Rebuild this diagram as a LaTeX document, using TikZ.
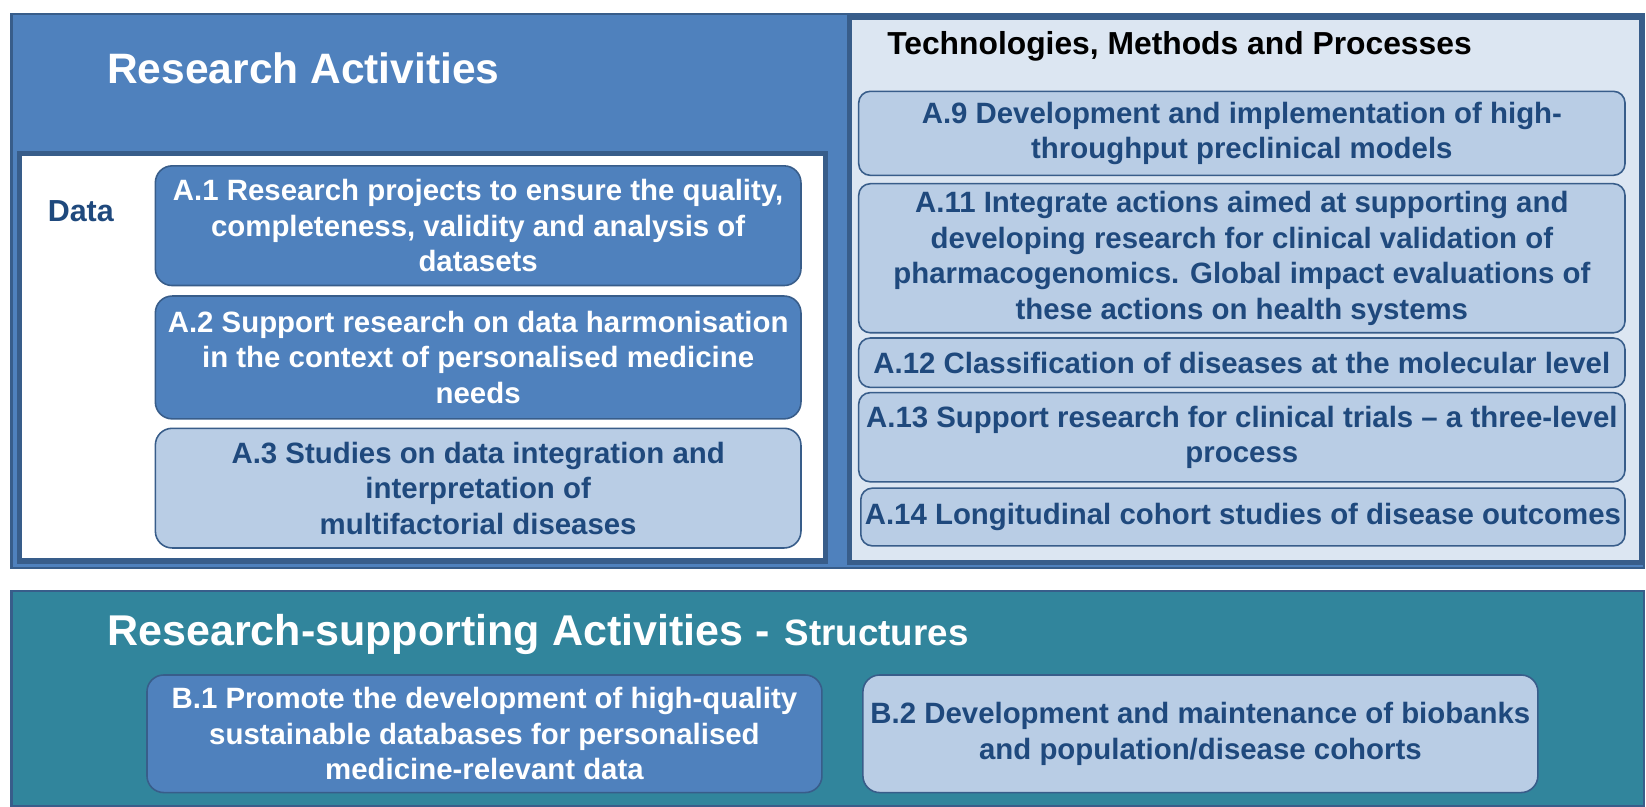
\documentclass[tikz,border=0pt]{standalone}
\usepackage{fontspec}
\setmainfont{Liberation Sans}
\definecolor{midblue}{HTML}{4F81BD}
\definecolor{edgeblue}{HTML}{385D8A}
\definecolor{paleblue}{HTML}{DCE6F2}
\definecolor{lightblue}{HTML}{B9CDE5}
\definecolor{textblue}{HTML}{1F497D}
\definecolor{tealfill}{HTML}{31859C}
\begin{document}
\begin{tikzpicture}[x=1pt,y=-1pt,
  panel/.style={draw=edgeblue, line width=2pt, inner sep=0pt, anchor=north west},
  innerpanel/.style={draw=edgeblue, line width=5pt, inner sep=0pt, anchor=north west},
  darkbox/.style={draw=edgeblue, line width=1.5pt, fill=midblue, rounded corners=16pt,
    text=white, font=\fontsize{28}{33.8}\selectfont\bfseries, align=center, inner sep=0pt},
  lightbox/.style={darkbox, fill=lightblue, text=textblue},
  techbox/.style={lightbox, rounded corners=11pt},
  bigtitle/.style={text=white, font=\fontsize{40.5}{48}\selectfont\bfseries, anchor=west, inner sep=0pt}
]
\useasboundingbox (0,0) rectangle (1568,768);

% Research Activities panel
\node[panel, fill=midblue, minimum width=1555pt, minimum height=528pt] (ra) at (10,12) {};
\node[bigtitle] (ratitle) at (102,65) {Research Activities};

% Data panel
\node[innerpanel, fill=white, minimum width=768pt, minimum height=388pt] (datapanel) at (16,144) {};
\node[text=textblue, font=\fontsize{29}{34}\selectfont\bfseries, inner sep=0pt] (data) at (77,201) {Data};

\node[darkbox, minimum width=615pt, minimum height=114pt] (a1) at (455.5,215)
  {A.1 Research projects to ensure the quality,\\completeness, validity and analysis of\\datasets};
\node[darkbox, minimum width=615pt, minimum height=117pt] (a2) at (455.5,340.5)
  {A.2 Support research on data harmonisation\\in the context of personalised medicine\\needs};
\node[lightbox, minimum width=615pt, minimum height=114pt] (a3) at (455.5,465)
  {A.3 Studies on data integration and\\interpretation of\\multifactorial diseases};

% Technologies panel
\node[innerpanel, fill=paleblue, minimum width=754pt, minimum height=519pt] (techpanel) at (807,14) {};
\node[font=\fontsize{30.3}{36}\selectfont\bfseries, anchor=west, inner sep=0pt] (techtitle) at (845,44)
  {Technologies, Methods and Processes};

\node[techbox, minimum width=730pt, minimum height=80pt] (a9) at (1183,127)
  {A.9 Development and implementation of high-\\throughput preclinical models};
\node[techbox, minimum width=730pt, minimum height=142pt] (a11) at (1183,246)
  {A.11 Integrate actions aimed at supporting and\\developing research for clinical validation of\\pharmacogenomics. Global impact evaluations of\\these actions on health systems};
\node[techbox, minimum width=730pt, minimum height=47pt] (a12) at (1183,345.5)
  {A.12 Classification of diseases at the molecular level};
\node[techbox, minimum width=730pt, minimum height=85pt] (a13) at (1183,416.5)
  {A.13 Support research for clinical trials -- a three-level\\process};
\node[techbox, minimum width=728pt, minimum height=55pt] (a14) at (1184,492.5)
  {A.14 Longitudinal cohort studies of disease outcomes};

% Research-supporting panel
\node[panel, fill=tealfill, minimum width=1555pt, minimum height=205pt] (rs) at (10,562) {};
\node[bigtitle, font=\fontsize{41}{48}\selectfont\bfseries] (rstitle) at (102,604)
  {Research-supporting Activities -\hspace{0.35em}{\fontsize{35}{42}\selectfont Structures}};

\node[darkbox, minimum width=643pt, minimum height=112pt] (b1) at (461.5,699)
  {B.1 Promote the development of high-quality\\sustainable databases for personalised\\medicine-relevant data};
\node[lightbox, minimum width=643pt, minimum height=112pt] (b2) at (1143.5,699)
  {B.2 Development and maintenance of biobanks\\and population/disease cohorts};
\end{tikzpicture}
\end{document}
